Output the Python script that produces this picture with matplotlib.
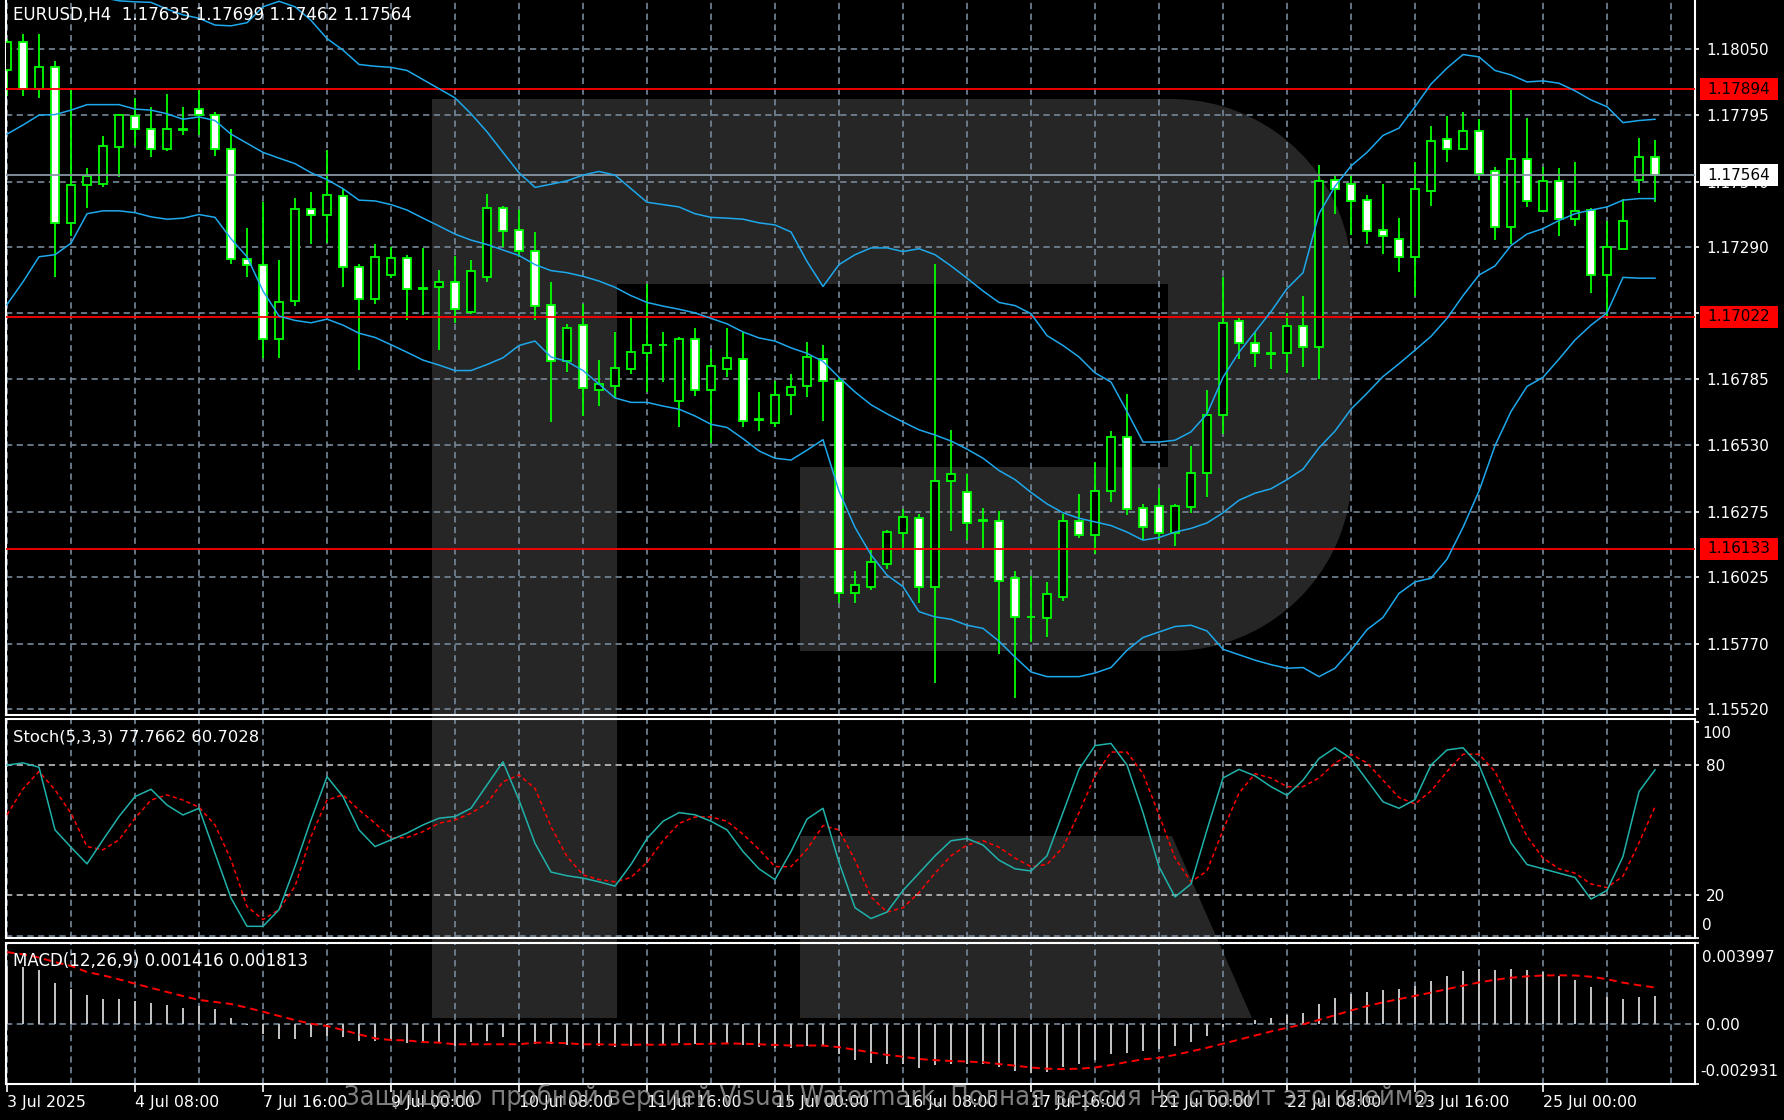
import numpy as np
import matplotlib.pyplot as plt
import matplotlib.transforms as mtransforms
from matplotlib.patches import Rectangle, Polygon

plt.rcParams['lines.scale_dashes'] = False
plt.rcParams['font.family'] = ['DejaVu Sans']

# EURUSD H4 candles (bar 0 = 3 Jul 2025 00:00)
opens = [1.17966, 1.18074, 1.17896, 1.17980, 1.17380, 1.17527, 1.17532, 1.17673, 1.17793, 1.17743,
         1.17666, 1.17739, 1.17818, 1.17795, 1.17666, 1.17243, 1.17220, 1.16938, 1.17083, 1.17436,
         1.17412, 1.17483, 1.17213, 1.17089, 1.17182, 1.17246, 1.17131, 1.17137, 1.17154, 1.17042,
         1.17173, 1.17438, 1.17353, 1.17276, 1.17069, 1.16851, 1.16992, 1.16743, 1.16758, 1.16821,
         1.16882, 1.16914, 1.16699, 1.16938, 1.16743, 1.16821, 1.16861, 1.16631, 1.16616, 1.16724,
         1.16758, 1.16860, 1.16776, 1.15964, 1.15985, 1.16075, 1.16194, 1.16250, 1.15985, 1.16394,
         1.16349, 1.16243, 1.16241, 1.16020, 1.15872, 1.15866, 1.15948, 1.16241, 1.16185, 1.16354,
         1.16563, 1.16288, 1.16297, 1.16194, 1.16293, 1.16424, 1.16647, 1.17006, 1.16920, 1.16882,
         1.16882, 1.16985, 1.16908, 1.17548, 1.17530, 1.17468, 1.17353, 1.17321, 1.17252, 1.17504,
         1.17705, 1.17666, 1.17734, 1.17581, 1.17368, 1.17628, 1.17426, 1.17543, 1.17396, 1.17431,
         1.17182, 1.17283, 1.17548, 1.17635]
highs = [1.18088, 1.18105, 1.18105, 1.18004, 1.17891, 1.17591, 1.17713, 1.17800, 1.17861, 1.17827,
         1.17874, 1.17827, 1.17896, 1.17806, 1.17743, 1.17361, 1.17461, 1.17238, 1.17476, 1.17499,
         1.17661, 1.17513, 1.17225, 1.17300, 1.17290, 1.17260, 1.17286, 1.17201, 1.17255, 1.17239,
         1.17492, 1.17447, 1.17431, 1.17347, 1.17156, 1.16994, 1.17072, 1.16856, 1.16964, 1.17020,
         1.17147, 1.16964, 1.16943, 1.16978, 1.16898, 1.16978, 1.16964, 1.16734, 1.16776, 1.16802,
         1.16926, 1.16915, 1.16790, 1.16049, 1.16128, 1.16206, 1.16285, 1.16267, 1.17225, 1.16589,
         1.16420, 1.16288, 1.16276, 1.16049, 1.16027, 1.16006, 1.16267, 1.16342, 1.16464, 1.16586,
         1.16725, 1.16305, 1.16366, 1.16305, 1.16525, 1.16741, 1.17173, 1.17016, 1.16964, 1.16964,
         1.17037, 1.17100, 1.17605, 1.17562, 1.17560, 1.17490, 1.17530, 1.17400, 1.17614, 1.17752,
         1.17792, 1.17806, 1.17779, 1.17597, 1.17891, 1.17783, 1.17597, 1.17591, 1.17614, 1.17440,
         1.17391, 1.17475, 1.17708, 1.17699]
lows = [1.17870, 1.17870, 1.17861, 1.17173, 1.17330, 1.17440, 1.17518, 1.17556, 1.17675, 1.17633,
        1.17656, 1.17719, 1.17719, 1.17640, 1.17225, 1.17173, 1.16865, 1.16865, 1.17065, 1.17300,
        1.17304, 1.17135, 1.16819, 1.17072, 1.17170, 1.17011, 1.17029, 1.16894, 1.16999, 1.17034,
        1.17156, 1.17290, 1.17252, 1.17011, 1.16619, 1.16812, 1.16642, 1.16680, 1.16711, 1.16804,
        1.16734, 1.16772, 1.16598, 1.16720, 1.16537, 1.16790, 1.16598, 1.16584, 1.16598, 1.16645,
        1.16715, 1.16621, 1.15927, 1.15924, 1.15976, 1.16055, 1.16136, 1.15924, 1.15619, 1.16201,
        1.16166, 1.16136, 1.15730, 1.15561, 1.15776, 1.15793, 1.15933, 1.16176, 1.16114, 1.16314,
        1.16262, 1.16166, 1.16166, 1.16145, 1.16271, 1.16332, 1.16572, 1.16860, 1.16828, 1.16821,
        1.16807, 1.16828, 1.16785, 1.17417, 1.17335, 1.17300, 1.17264, 1.17194, 1.17103, 1.17448,
        1.17617, 1.17662, 1.17548, 1.17318, 1.17300, 1.17441, 1.17424, 1.17333, 1.17370, 1.17112,
        1.17025, 1.17281, 1.17495, 1.17462]
closes = [1.18076, 1.17896, 1.17980, 1.17380, 1.17527, 1.17560, 1.17675, 1.17797, 1.17743, 1.17666,
          1.17743, 1.17741, 1.17797, 1.17666, 1.17243, 1.17222, 1.16938, 1.17077, 1.17436, 1.17414,
          1.17490, 1.17211, 1.17089, 1.17252, 1.17246, 1.17130, 1.17130, 1.17154, 1.17051, 1.17199,
          1.17438, 1.17351, 1.17274, 1.17065, 1.16851, 1.16978, 1.16751, 1.16764, 1.16825, 1.16886,
          1.16915, 1.16913, 1.16938, 1.16743, 1.16832, 1.16863, 1.16621, 1.16628, 1.16724, 1.16753,
          1.16868, 1.16776, 1.15964, 1.15995, 1.16081, 1.16197, 1.16255, 1.15988, 1.16394, 1.16419,
          1.16232, 1.16239, 1.16009, 1.15872, 1.15870, 1.15959, 1.16241, 1.16185, 1.16354, 1.16563,
          1.16285, 1.16215, 1.16194, 1.16297, 1.16424, 1.16647, 1.16999, 1.16920, 1.16882, 1.16880,
          1.16985, 1.16908, 1.17543, 1.17513, 1.17466, 1.17351, 1.17330, 1.17252, 1.17513, 1.17696,
          1.17666, 1.17734, 1.17570, 1.17368, 1.17628, 1.17466, 1.17543, 1.17396, 1.17429, 1.17182,
          1.17290, 1.17389, 1.17635, 1.17564]

# Bollinger bands as shown
bb_upper = [1.18375, 1.18358, 1.18341, 1.18306, 1.18280, 1.18262, 1.18245, 1.18233, 1.18229, 1.18227,
            1.18201, 1.18179, 1.18166, 1.18140, 1.18137, 1.18149, 1.18210, 1.18231, 1.18210, 1.18158,
            1.18088, 1.18044, 1.17989, 1.17982, 1.17978, 1.17966, 1.17931, 1.17896, 1.17861, 1.17800,
            1.17731, 1.17652, 1.17574, 1.17518, 1.17530, 1.17543, 1.17565, 1.17579, 1.17565, 1.17513,
            1.17461, 1.17452, 1.17443, 1.17417, 1.17403, 1.17400, 1.17396, 1.17382, 1.17374, 1.17347,
            1.17234, 1.17138, 1.17222, 1.17260, 1.17286, 1.17286, 1.17272, 1.17283, 1.17260, 1.17217,
            1.17170, 1.17121, 1.17077, 1.17065, 1.17034, 1.16950, 1.16912, 1.16868, 1.16807, 1.16772,
            1.16659, 1.16542, 1.16542, 1.16549, 1.16581, 1.16650, 1.16790, 1.16886, 1.16964, 1.17042,
            1.17130, 1.17191, 1.17417, 1.17522, 1.17600, 1.17652, 1.17717, 1.17745, 1.17827, 1.17914,
            1.17975, 1.18027, 1.18018, 1.17966, 1.17949, 1.17922, 1.17926, 1.17917, 1.17888, 1.17853,
            1.17827, 1.17766, 1.17774, 1.17779]
bb_mid = [1.17722, 1.17757, 1.17795, 1.17797, 1.17814, 1.17835, 1.17835, 1.17835, 1.17818, 1.17814,
          1.17800, 1.17779, 1.17788, 1.17774, 1.17722, 1.17687, 1.17652, 1.17630, 1.17609, 1.17574,
          1.17548, 1.17513, 1.17469, 1.17466, 1.17452, 1.17431, 1.17400, 1.17370, 1.17339, 1.17316,
          1.17299, 1.17278, 1.17257, 1.17222, 1.17199, 1.17191, 1.17177, 1.17159, 1.17135, 1.17103,
          1.17077, 1.17063, 1.17051, 1.17037, 1.17016, 1.16995, 1.16964, 1.16941, 1.16929, 1.16903,
          1.16882, 1.16851, 1.16790, 1.16734, 1.16685, 1.16650, 1.16619, 1.16589, 1.16569, 1.16546,
          1.16515, 1.16480, 1.16433, 1.16398, 1.16349, 1.16305, 1.16271, 1.16250, 1.16236, 1.16222,
          1.16197, 1.16166, 1.16176, 1.16197, 1.16211, 1.16232, 1.16271, 1.16319, 1.16346, 1.16363,
          1.16398, 1.16438, 1.16520, 1.16584, 1.16668, 1.16729, 1.16793, 1.16842, 1.16894, 1.16947,
          1.17016, 1.17103, 1.17182, 1.17217, 1.17295, 1.17339, 1.17360, 1.17391, 1.17417, 1.17431,
          1.17443, 1.17469, 1.17475, 1.17475]
bb_lower = [1.17069, 1.17156, 1.17252, 1.17260, 1.17304, 1.17417, 1.17428, 1.17428, 1.17421, 1.17405,
            1.17396, 1.17400, 1.17414, 1.17403, 1.17321, 1.17252, 1.17121, 1.17025, 1.17008, 1.16999,
            1.17013, 1.16990, 1.16959, 1.16943, 1.16915, 1.16886, 1.16856, 1.16837, 1.16816, 1.16816,
            1.16839, 1.16865, 1.16912, 1.16929, 1.16868, 1.16851, 1.16816, 1.16764, 1.16711, 1.16694,
            1.16694, 1.16680, 1.16668, 1.16642, 1.16610, 1.16598, 1.16555, 1.16508, 1.16480, 1.16473,
            1.16511, 1.16551, 1.16354, 1.16215, 1.16110, 1.16032, 1.15988, 1.15892, 1.15872, 1.15863,
            1.15840, 1.15828, 1.15779, 1.15718, 1.15661, 1.15643, 1.15643, 1.15643, 1.15657, 1.15678,
            1.15744, 1.15793, 1.15814, 1.15835, 1.15840, 1.15818, 1.15748, 1.15727, 1.15706, 1.15689,
            1.15675, 1.15678, 1.15643, 1.15675, 1.15744, 1.15823, 1.15870, 1.15962, 1.16006, 1.16020,
            1.16093, 1.16215, 1.16354, 1.16528, 1.16659, 1.16755, 1.16790, 1.16860, 1.16933, 1.16990,
            1.17037, 1.17173, 1.17170, 1.17170]

# Stochastic(5,3,3)
stoch_k = [80, 81, 79, 50, 42, 34.3, 45.4, 56.2, 65.4, 68.8,
           61.5, 56.9, 60, 39.2, 18.5, 5.4, 5.4, 13.1, 33.1, 54.6,
           74.6, 65.4, 50, 42.3, 45.4, 48.5, 52.3, 55.4, 56.2, 60,
           70.8, 81.5, 63.8, 43.8, 30.5, 28.8, 27.7, 26, 24, 34,
           46, 54, 58, 57, 54, 50, 40, 32, 27, 40,
           55, 60, 35, 14, 9, 12, 22, 30, 38, 45,
           46, 43, 36, 32, 31, 38, 58, 78, 89, 90,
           80, 58, 33, 19, 25, 50, 74, 78, 75, 70,
           66, 73, 83, 88, 83, 73, 63, 60, 64, 80,
           87, 88, 80, 62, 44, 34, 32, 30, 28, 18,
           22, 37.7, 67.7, 77.7662]
stoch_d = [57, 69, 77, 68.5, 57.7, 42.3, 40.8, 45.4, 55.4, 63.8,
           66.2, 63.8, 60.5, 52.3, 36.2, 14.6, 8.5, 13.1, 23.9, 46.9,
           63.8, 66.2, 59.2, 53.1, 46.2, 46.5, 49.2, 53.1, 54.6, 57.7,
           62.3, 72.3, 75.4, 69.2, 51.5, 37.7, 29.2, 27, 26, 28,
           35, 45, 53, 56, 56, 54, 48, 41, 33, 33,
           41, 52, 50, 36, 19, 12, 14, 21, 30, 38,
           43, 45, 42, 37, 33, 34, 42, 58, 75, 86,
           86, 76, 57, 37, 26, 31, 50, 67, 76, 74,
           70, 70, 74, 81, 85, 81, 73, 65, 62, 68,
           77, 85, 85, 77, 62, 47, 37, 32, 30, 25,
           23.3, 28.6, 44, 60.7028]

# MACD(12,26,9)
macd_main = [0.00285, 0.00280, 0.00268, 0.00205, 0.00172, 0.00143, 0.00123, 0.00123, 0.00115, 0.00103,
             0.00093, 0.00082, 0.00090, 0.00074, 0.00033, -0.00002, -0.00049, -0.00070, -0.00070, -0.00062,
             -0.00057, -0.00061, -0.00082, -0.00082, -0.00082, -0.00090, -0.00090, -0.00090, -0.00106, -0.00087,
             -0.00082, -0.00062, -0.00087, -0.00098, -0.00098, -0.00103, -0.00123, -0.00106, -0.00110, -0.00105,
             -0.00100, -0.00100, -0.00090, -0.00095, -0.00090, -0.00090, -0.00100, -0.00110, -0.00115, -0.00115,
             -0.00105, -0.00105, -0.00145, -0.00175, -0.00190, -0.00195, -0.00195, -0.00215, -0.00200, -0.00195,
             -0.00195, -0.00195, -0.00210, -0.00230, -0.00240, -0.00235, -0.00210, -0.00195, -0.00175, -0.00145,
             -0.00140, -0.00132, -0.00120, -0.00105, -0.00085, -0.00055, -0.00015, 0.00005, 0.00020, 0.00030,
             0.00045, 0.00055, 0.00100, 0.00130, 0.00150, 0.00160, 0.00168, 0.00172, 0.00190, 0.00215,
             0.00240, 0.00260, 0.00270, 0.00265, 0.00270, 0.00265, 0.00255, 0.00240, 0.00220, 0.00185,
             0.00135, 0.00125, 0.00135, 0.001416]
macd_signal = [0.00355, 0.00344, 0.00328, 0.00306, 0.00287, 0.00257, 0.00241, 0.00221, 0.00200, 0.00179,
               0.00159, 0.00139, 0.00120, 0.00110, 0.00100, 0.00082, 0.00062, 0.00041, 0.00021, 0.00003,
               -0.00008, -0.00028, -0.00049, -0.00069, -0.00077, -0.00079, -0.00087, -0.00090, -0.00098, -0.00098,
               -0.00098, -0.00098, -0.00098, -0.00090, -0.00090, -0.00093, -0.00098, -0.00098, -0.00100, -0.00100,
               -0.00100, -0.00100, -0.00098, -0.00097, -0.00095, -0.00094, -0.00095, -0.00098, -0.00101, -0.00104,
               -0.00104, -0.00104, -0.00112, -0.00125, -0.00138, -0.00150, -0.00159, -0.00170, -0.00176, -0.00180,
               -0.00183, -0.00186, -0.00195, -0.00203, -0.00212, -0.00218, -0.00220, -0.00218, -0.00212, -0.00200,
               -0.00185, -0.00172, -0.00165, -0.00150, -0.00133, -0.00115, -0.00095, -0.00075, -0.00055, -0.00035,
               -0.00017, 0.00000, 0.00022, 0.00045, 0.00068, 0.00090, 0.00108, 0.00124, 0.00140, 0.00156,
               0.00173, 0.00190, 0.00206, 0.00219, 0.00229, 0.00236, 0.00240, 0.00241, 0.00240, 0.00234,
               0.00222, 0.00205, 0.00192, 0.001813]

levels = [1.17894, 1.17022, 1.16133]
bid = 1.17564
price_grid = [1.18050, 1.17795, 1.17540, 1.17290, 1.17035, 1.16785, 1.16530, 1.16275, 1.16025, 1.15770, 1.15520]
label_idx = [0, 8, 16, 24, 32, 40, 48, 56, 64, 72, 80, 88, 96]
label_txt = ['3 Jul 2025', '4 Jul 08:00', '7 Jul 16:00', '9 Jul 00:00', '10 Jul 08:00', '11 Jul 16:00',
             '15 Jul 00:00', '16 Jul 08:00', '17 Jul 16:00', '21 Jul 00:00', '22 Jul 08:00',
             '23 Jul 16:00', '25 Jul 00:00']

W, H = 1784, 1120
fig = plt.figure(figsize=(W / 100, H / 100), dpi=100, facecolor='black')
px = mtransforms.Affine2D().scale(1 / W, -1 / H).translate(0, 1) + fig.transFigure

# background "R" logo
t1 = np.linspace(np.pi / 2, 0, 20)
t2 = np.linspace(0, -np.pi / 2, 20)
logo = [(432, 99)] + [(1172 + 180 * np.cos(t), 279 - 180 * np.sin(t)) for t in t1] \
       + [(1172 + 180 * np.cos(t), 471 - 180 * np.sin(t)) for t in t2] \
       + [(800, 651), (800, 467), (1168, 467), (1168, 284), (617, 284), (617, 1018), (432, 1018)]
fig.add_artist(Polygon(logo, closed=True, transform=px, fc='#262626', ec='none', zorder=-1))
fig.add_artist(Polygon([(800, 836), (1172, 836), (1252, 1018), (800, 1018)], closed=True,
                       transform=px, fc='#262626', ec='none', zorder=-1))

GRID = '#778899'
GREEN = '#00ff00'


def panel(top, bottom):
    a = fig.add_axes([6 / W, 1 - bottom / H, (1695 - 6) / W, (bottom - top) / H])
    a.set_facecolor('none')
    a.set_xlim(-0.0625, 105.5)
    for s in a.spines.values():
        s.set_color('white')
        s.set_linewidth(1.5)
    a.tick_params(axis='x', length=0, labelbottom=False)
    a.yaxis.tick_right()
    a.tick_params(axis='y', colors='white', length=3, width=1.2, pad=5, labelsize=11)
    for g in range(0, 105, 4):
        a.axvline(g, color=GRID, lw=1.2, dashes=(4.5, 3.2), zorder=1)
    return a


# main price panel
ax = panel(0, 715)
ax.spines['top'].set_visible(False)
ax.set_ylim(1.15496, 1.18236)
ax.set_yticks(price_grid)
ax.set_yticklabels([f'{p:.5f}' for p in price_grid])
for p in price_grid:
    ax.axhline(p, color=GRID, lw=1.2, dashes=(4.5, 3.2), zorder=1)

x = np.arange(len(opens))
o, hi, lo, c = map(np.array, (opens, highs, lows, closes))
ax.vlines(x, lo, hi, color=GREEN, lw=1.3, zorder=2)
for i in x:
    fc = 'white' if c[i] < o[i] else 'black'
    ax.add_patch(Rectangle((i - 0.23, min(o[i], c[i])), 0.46, abs(c[i] - o[i]),
                           fc=fc, ec=GREEN, lw=1.3, zorder=3))

for band in (bb_upper, bb_mid, bb_lower):
    ax.plot(x, band, color='#1ea8ec', lw=1.1, zorder=5)

lab_tr = mtransforms.blended_transform_factory(ax.transAxes, ax.transData)
for lv in levels:
    ax.axhline(lv, color='#ff0000', lw=1.3, zorder=4)
ax.axhline(bid, color='#8896a6', lw=1.3, zorder=4)
for lv, bg in [(levels[0], '#ff0000'), (levels[1], '#ff0000'), (levels[2], '#ff0000'), (bid, 'white')]:
    ax.add_patch(Rectangle((1.003, lv - 0.00042), 0.0462, 0.00084, transform=lab_tr,
                           fc=bg, ec='none', clip_on=False, zorder=10))
    ax.text(1.0071, lv, f'{lv:.5f}', transform=lab_tr, color='black', fontsize=11,
            va='center', ha='left', clip_on=False, zorder=11)

fig.text(13 / W, 1 - 15 / H, 'EURUSD,H4  1.17635 1.17699 1.17462 1.17564',
         color='white', fontsize=12, va='center')

# stochastic panel
ax_st = panel(719, 938)
ax_st.set_ylim(0, 101.3)
ax_st.set_yticks([0, 20, 80, 100])
ax_st.set_yticklabels(['', '20', '80', ''])
for lv in (80, 20):
    ax_st.axhline(lv, color='#c0c0c0', lw=1.2, dashes=(4.5, 3.2), zorder=1)
ax_st.axhline(0.7, color=GRID, lw=1.2, dashes=(4.5, 3.2), zorder=1)
ax_st.plot(x, stoch_d, color='#ff0000', lw=1.1, dashes=(3, 2.2), zorder=3)
ax_st.plot(x, stoch_k, color='#20b2aa', lw=1.1, zorder=4)
fig.text(13 / W, 1 - 737 / H, 'Stoch(5,3,3) 77.7662 60.7028', color='white', fontsize=11.8, va='center')
fig.text(1702 / W, 1 - 733 / H, '100', color='white', fontsize=11, va='center')
fig.text(1702 / W, 1 - 925 / H, '0', color='white', fontsize=11, va='center')

# MACD panel
ax_md = panel(943, 1084)
ax_md.set_ylim(-0.002931, 0.003997)
ax_md.set_yticks([-0.002931, 0, 0.003997])
ax_md.set_yticklabels(['', '0.00', ''])
ax_md.axhline(0, color=GRID, lw=1.2, dashes=(4.5, 3.2), zorder=1)
ax_md.bar(x, macd_main, width=0.14, color='#c0c0c0', zorder=2)
ax_md.plot(x, macd_signal, color='#ff0000', lw=1.4, dashes=(5.5, 3.5), zorder=3)
fig.text(13 / W, 1 - 961 / H, 'MACD(12,26,9) 0.001416 0.001813', color='white', fontsize=12, va='center')
fig.text(1702 / W, 1 - 957 / H, '0.003997', color='white', fontsize=11, va='center')
fig.text(1700 / W, 1 - 1071 / H, '-0.002931', color='white', fontsize=11, va='center')

ax_md.set_xticks(label_idx)
ax_md.set_xticklabels(label_txt, ha='left')
ax_md.tick_params(axis='x', length=6, width=1.2, colors='white', labelsize=11.3, pad=2, labelbottom=True)

fig.text(890 / W, 1 - 1097 / H,
         'Защищено пробной версией Visual Watermark. Полная версия не ставит это клеймо.',
         ha='center', va='center', fontsize=19.5, color='#a0a0a0', alpha=0.8, fontstretch='condensed')

fig.savefig('out.png', dpi=100, facecolor='black')
